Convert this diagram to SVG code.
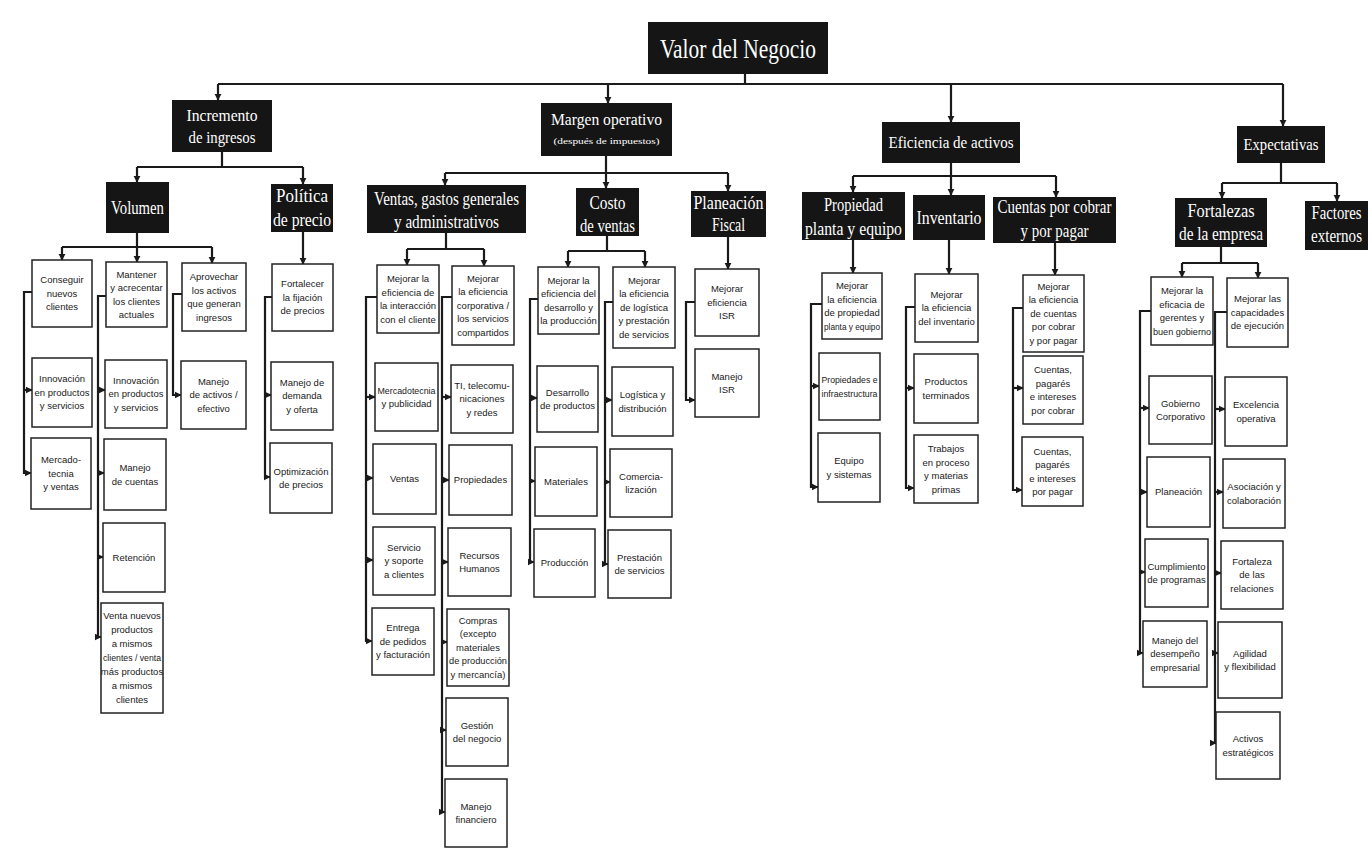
<svg xmlns="http://www.w3.org/2000/svg" width="1372" height="849" viewBox="0 0 1372 849">
<style>
.h rect{fill:#151515}
.h text{fill:#fff;font-family:"Liberation Serif",serif;font-size:18px;text-anchor:middle}
.b rect{fill:#fff;stroke:#222;stroke-width:1.5}
.b text{fill:#1a1a1a;font-family:"Liberation Sans",Arial,sans-serif;font-size:9.5px;text-anchor:middle}
.c path{fill:none;stroke:#1a1a1a;stroke-width:2.2}
.c path.a{marker-end:url(#ar)}
</style>
<defs>
<marker id="ar" viewBox="0 0 10 10" refX="9" refY="5" markerWidth="3.2" markerHeight="3.2" orient="auto" markerUnits="strokeWidth">
<path d="M0,0 L10,5 L0,10 z" fill="#1a1a1a"/>
</marker>
</defs>
<rect width="1372" height="849" fill="#fff"/>

<g class="c" id="connectors">
<path d="M745,74 V84"/>
<path d="M218,84 H1283"/>
<path class="a" d="M218,84 V100"/>
<path class="a" d="M608,84 V103"/>
<path class="a" d="M951,84 V122"/>
<path class="a" d="M1283,84 V126"/>
<path d="M222,152 V167 M137,167 H303"/>
<path class="a" d="M137,167 V182"/>
<path class="a" d="M303,167 V184"/>
<path d="M137,233 V247 M62,247 H212"/>
<path class="a" d="M62,247 V260"/>
<path class="a" d="M137,247 V262"/>
<path class="a" d="M212,247 V263"/>
<path class="a" d="M303,232 V264"/>
<path class="a" d="M32,292 H24 V473 H31"/>
<path class="a" d="M24,390 H32"/>
<path class="a" d="M106,296 H98 V637 H101"/>
<path class="a" d="M98,390 H105"/>
<path class="a" d="M98,473 H104"/>
<path class="a" d="M98,557 H103"/>
<path class="a" d="M182,294 H173 V395 H181"/>
<path class="a" d="M272,297 H265 V477 H270"/>
<path class="a" d="M265,395 H271"/>
<path d="M606,156 V173 M445,173 H728"/>
<path class="a" d="M445,173 V185"/>
<path class="a" d="M606,173 V188"/>
<path class="a" d="M728,173 V191"/>
<path d="M446,233 V249 M407,249 H484"/>
<path class="a" d="M407,249 V265"/>
<path class="a" d="M484,249 V266"/>
<path d="M607,236 V251 M568,251 H645"/>
<path class="a" d="M568,251 V267"/>
<path class="a" d="M645,251 V267"/>
<path class="a" d="M728,237 V269"/>
<path class="a" d="M695,302 H686 V400 H695"/>
<path class="a" d="M377,297 H366 V641 H372"/>
<path class="a" d="M366,397 H375"/>
<path class="a" d="M366,478 H373"/>
<path class="a" d="M366,560 H373"/>
<path class="a" d="M452,297 H442 V812 H445"/>
<path class="a" d="M442,397 H451"/>
<path class="a" d="M442,480 H449"/>
<path class="a" d="M442,562 H448"/>
<path class="a" d="M442,642 H447"/>
<path class="a" d="M442,730 H446"/>
<path class="a" d="M538,299 H530 V562 H534"/>
<path class="a" d="M530,398 H537"/>
<path class="a" d="M530,481 H535"/>
<path class="a" d="M613,302 H605 V564 H608"/>
<path class="a" d="M605,400 H612"/>
<path class="a" d="M605,482 H610"/>
<path d="M951,163 V176 M853,176 H1056"/>
<path class="a" d="M853,176 V192"/>
<path class="a" d="M951,176 V195"/>
<path class="a" d="M1056,176 V197"/>
<path class="a" d="M853,240 V273"/>
<path class="a" d="M949,240 V274"/>
<path class="a" d="M1055,243 V275"/>
<path class="a" d="M822,304 H811 V487 H818"/>
<path class="a" d="M811,386 H819"/>
<path class="a" d="M915,307 H906 V488 H914"/>
<path class="a" d="M906,388 H914"/>
<path class="a" d="M1023,308 H1013 V490 H1022"/>
<path class="a" d="M1013,388 H1023"/>
<path d="M1281,163 V183 M1222,183 H1337"/>
<path class="a" d="M1222,183 V198"/>
<path class="a" d="M1337,183 V201"/>
<path d="M1221,247 V263 M1182,263 H1258"/>
<path class="a" d="M1182,263 V277"/>
<path class="a" d="M1258,263 V278"/>
<path class="a" d="M1151,311 H1140 V653 H1143"/>
<path class="a" d="M1140,408 H1149"/>
<path class="a" d="M1140,492 H1147"/>
<path class="a" d="M1140,572 H1145"/>
<path class="a" d="M1227,312 H1215 V743 H1216"/>
<path class="a" d="M1215,409 H1225"/>
<path class="a" d="M1215,492 H1223"/>
<path class="a" d="M1215,573 H1221"/>
<path class="a" d="M1215,653 H1218"/>
</g>

<g class="h" id="valor"><rect x="648" y="22" width="180" height="52"/><text x="738" y="58" style="font-size:28px" textLength="156" lengthAdjust="spacingAndGlyphs">Valor del Negocio</text></g>
<g class="h" id="incremento"><rect x="172" y="100" width="100" height="52"/><text x="222" y="121" style="font-size:17px" textLength="71" lengthAdjust="spacingAndGlyphs">Incremento</text><text x="222" y="143" style="font-size:17px" textLength="67" lengthAdjust="spacingAndGlyphs">de ingresos</text></g>
<g class="h" id="margen"><rect x="541" y="103" width="131" height="53"/><text x="606.5" y="125" style="font-size:17px" textLength="111" lengthAdjust="spacingAndGlyphs">Margen operativo</text><text x="606.5" y="144" style="font-size:9px" textLength="106" lengthAdjust="spacingAndGlyphs">(después de impuestos)</text></g>
<g class="h" id="eficiencia"><rect x="882" y="122" width="138" height="41"/><text x="951" y="148" style="font-size:17px" textLength="125" lengthAdjust="spacingAndGlyphs">Eficiencia de activos</text></g>
<g class="h" id="expectativas"><rect x="1237" y="126" width="88" height="37"/><text x="1281" y="150" style="font-size:17px" textLength="75" lengthAdjust="spacingAndGlyphs">Expectativas</text></g>
<g class="h" id="volumen"><rect x="106" y="182" width="63" height="51"/><text x="137.5" y="214" style="font-size:19px" textLength="53" lengthAdjust="spacingAndGlyphs">Volumen</text></g>
<g class="h" id="politica"><rect x="271" y="184" width="62" height="48"/><text x="302" y="202" textLength="52" lengthAdjust="spacingAndGlyphs">Política</text><text x="302" y="226" textLength="58" lengthAdjust="spacingAndGlyphs">de precio</text></g>
<g class="h" id="ventas_gastos"><rect x="367" y="185" width="159" height="48"/><text x="446.5" y="205" textLength="145" lengthAdjust="spacingAndGlyphs">Ventas, gastos generales</text><text x="446.5" y="228" textLength="105" lengthAdjust="spacingAndGlyphs">y administrativos</text></g>
<g class="h" id="costo"><rect x="576" y="188" width="63" height="48"/><text x="607.5" y="209" textLength="36" lengthAdjust="spacingAndGlyphs">Costo</text><text x="607.5" y="232" textLength="55" lengthAdjust="spacingAndGlyphs">de ventas</text></g>
<g class="h" id="planeacion_fiscal"><rect x="691" y="191" width="75" height="46"/><text x="728.5" y="209" textLength="70" lengthAdjust="spacingAndGlyphs">Planeación</text><text x="728.5" y="231" textLength="33" lengthAdjust="spacingAndGlyphs">Fiscal</text></g>
<g class="h" id="ppe"><rect x="802" y="192" width="103" height="48"/><text x="853.5" y="211" textLength="59" lengthAdjust="spacingAndGlyphs">Propiedad</text><text x="853.5" y="235" textLength="97" lengthAdjust="spacingAndGlyphs">planta y equipo</text></g>
<g class="h" id="inventario"><rect x="913" y="195" width="72" height="45"/><text x="949" y="224" textLength="65" lengthAdjust="spacingAndGlyphs">Inventario</text></g>
<g class="h" id="cuentas"><rect x="993" y="197" width="123" height="46"/><text x="1054.5" y="213" textLength="114" lengthAdjust="spacingAndGlyphs">Cuentas por cobrar</text><text x="1054.5" y="237" textLength="68" lengthAdjust="spacingAndGlyphs">y por pagar</text></g>
<g class="h" id="fortalezas"><rect x="1175" y="198" width="92" height="49"/><text x="1221" y="217" textLength="67" lengthAdjust="spacingAndGlyphs">Fortalezas</text><text x="1221" y="240" textLength="84" lengthAdjust="spacingAndGlyphs">de la empresa</text></g>
<g class="h" id="factores"><rect x="1305" y="201" width="63" height="49"/><text x="1336.5" y="219" textLength="50" lengthAdjust="spacingAndGlyphs">Factores</text><text x="1336.5" y="242" textLength="51" lengthAdjust="spacingAndGlyphs">externos</text></g>

<g class="b" id="conseguir"><rect x="32" y="260" width="60" height="67"/><text><tspan x="62" y="283.3">Conseguir</tspan><tspan x="62" y="296.8">nuevos</tspan><tspan x="62" y="310.3">clientes</tspan></text></g>
<g class="b" id="innovacion1"><rect x="32" y="358" width="60" height="69"/><text><tspan x="62" y="382.3">Innovación</tspan><tspan x="62" y="395.8" textLength="55" lengthAdjust="spacingAndGlyphs">en productos</tspan><tspan x="62" y="409.3">y servicios</tspan></text></g>
<g class="b" id="mercadotecnia_ventas"><rect x="31" y="438" width="60" height="71"/><text><tspan x="61" y="463.3">Mercado-</tspan><tspan x="61" y="476.8">tecnia</tspan><tspan x="61" y="490.3">y ventas</tspan></text></g>
<g class="b" id="mantener"><rect x="106" y="262" width="61" height="65"/><text><tspan x="136.5" y="277.6">Mantener</tspan><tspan x="136.5" y="291.1">y acrecentar</tspan><tspan x="136.5" y="304.6">los clientes</tspan><tspan x="136.5" y="318.1">actuales</tspan></text></g>
<g class="b" id="innovacion2"><rect x="105" y="360" width="62" height="68"/><text><tspan x="136" y="383.8">Innovación</tspan><tspan x="136" y="397.3" textLength="55" lengthAdjust="spacingAndGlyphs">en productos</tspan><tspan x="136" y="410.8">y servicios</tspan></text></g>
<g class="b" id="manejo_cuentas"><rect x="104" y="439" width="62" height="71"/><text><tspan x="135" y="471">Manejo</tspan><tspan x="135" y="484.5">de cuentas</tspan></text></g>
<g class="b" id="retencion"><rect x="103" y="523" width="62" height="69"/><text x="134" y="560.8">Retención</text></g>
<g class="b" id="venta_nuevos"><rect x="101" y="603" width="62" height="110"/><text><tspan x="132" y="619.3">Venta nuevos</tspan><tspan x="132" y="633.3">productos</tspan><tspan x="132" y="647.3">a mismos</tspan><tspan x="132" y="661.3" textLength="58" lengthAdjust="spacingAndGlyphs">clientes / venta</tspan><tspan x="132" y="675.3">más productos</tspan><tspan x="132" y="689.3">a mismos</tspan><tspan x="132" y="703.3">clientes</tspan></text></g>
<g class="b" id="aprovechar"><rect x="182" y="263" width="64" height="68"/><text><tspan x="214" y="280">Aprovechar</tspan><tspan x="214" y="293.5">los activos</tspan><tspan x="214" y="307">que generan</tspan><tspan x="214" y="320.5">ingresos</tspan></text></g>
<g class="b" id="manejo_activos"><rect x="181" y="361" width="65" height="68"/><text><tspan x="213.5" y="384.8">Manejo</tspan><tspan x="213.5" y="398.3">de activos /</tspan><tspan x="213.5" y="411.8">efectivo</tspan></text></g>
<g class="b" id="fortalecer"><rect x="272" y="264" width="61" height="67"/><text><tspan x="302.5" y="287.3">Fortalecer</tspan><tspan x="302.5" y="300.8">la fijación</tspan><tspan x="302.5" y="314.3">de precios</tspan></text></g>
<g class="b" id="manejo_demanda"><rect x="271" y="362" width="62" height="68"/><text><tspan x="302" y="385.8">Manejo de</tspan><tspan x="302" y="399.3">demanda</tspan><tspan x="302" y="412.8">y oferta</tspan></text></g>
<g class="b" id="optimizacion"><rect x="270" y="443" width="62" height="70"/><text><tspan x="301" y="474.6">Optimización</tspan><tspan x="301" y="488.1">de precios</tspan></text></g>

<g class="b" id="mej_interaccion"><rect x="377" y="265" width="62" height="68"/><text><tspan x="408" y="282">Mejorar la</tspan><tspan x="408" y="295.5">eficiencia de</tspan><tspan x="408" y="309">la interacción</tspan><tspan x="408" y="322.5">con el cliente</tspan></text></g>
<g class="b" id="mercadotecnia_pub"><rect x="375" y="363" width="63" height="68"/><text><tspan x="406.5" y="393.6" textLength="58" lengthAdjust="spacingAndGlyphs">Mercadotecnia</tspan><tspan x="406.5" y="407.1">y publicidad</tspan></text></g>
<g class="b" id="ventas"><rect x="373" y="444" width="63" height="70"/><text x="404.5" y="482.3">Ventas</text></g>
<g class="b" id="servicio"><rect x="373" y="527" width="62" height="68"/><text><tspan x="404" y="550.8">Servicio</tspan><tspan x="404" y="564.3">y soporte</tspan><tspan x="404" y="577.8">a clientes</tspan></text></g>
<g class="b" id="entrega"><rect x="372" y="608" width="62" height="67"/><text><tspan x="403" y="631.3">Entrega</tspan><tspan x="403" y="644.8">de pedidos</tspan><tspan x="403" y="658.3">y facturación</tspan></text></g>
<g class="b" id="mej_corporativa"><rect x="452" y="266" width="62" height="79"/><text><tspan x="483" y="281.8">Mejorar</tspan><tspan x="483" y="295.3">la eficiencia</tspan><tspan x="483" y="308.8">corporativa /</tspan><tspan x="483" y="322.3">los servicios</tspan><tspan x="483" y="335.8">compartidos</tspan></text></g>
<g class="b" id="ti"><rect x="451" y="365" width="62" height="68"/><text><tspan x="482" y="388.8">TI, telecomu-</tspan><tspan x="482" y="402.3">nicaciones</tspan><tspan x="482" y="415.8">y redes</tspan></text></g>
<g class="b" id="propiedades"><rect x="449" y="445" width="63" height="70"/><text x="480.5" y="483.3">Propiedades</text></g>
<g class="b" id="rrhh"><rect x="448" y="528" width="63" height="68"/><text><tspan x="479.5" y="558.6">Recursos</tspan><tspan x="479.5" y="572.1">Humanos</tspan></text></g>
<g class="b" id="compras"><rect x="447" y="609" width="62" height="77"/><text><tspan x="478" y="623.8">Compras</tspan><tspan x="478" y="637.3">(excepto</tspan><tspan x="478" y="650.8">materiales</tspan><tspan x="478" y="664.3" textLength="58" lengthAdjust="spacingAndGlyphs">de producción</tspan><tspan x="478" y="677.8">y mercancía)</tspan></text></g>
<g class="b" id="gestion"><rect x="446" y="698" width="62" height="68"/><text><tspan x="477" y="728.6">Gestión</tspan><tspan x="477" y="742.1">del negocio</tspan></text></g>
<g class="b" id="manejo_financiero"><rect x="445" y="779" width="62" height="68"/><text><tspan x="476" y="809.6">Manejo</tspan><tspan x="476" y="823.1">financiero</tspan></text></g>

<g class="b" id="mej_desarrollo"><rect x="538" y="267" width="61" height="67"/><text><tspan x="568.5" y="283.6">Mejorar la</tspan><tspan x="568.5" y="297.1">eficiencia del</tspan><tspan x="568.5" y="310.6">desarrollo y</tspan><tspan x="568.5" y="324.1">la producción</tspan></text></g>
<g class="b" id="desarrollo"><rect x="537" y="366" width="61" height="66"/><text><tspan x="567.5" y="395.6">Desarrollo</tspan><tspan x="567.5" y="409.1">de productos</tspan></text></g>
<g class="b" id="materiales"><rect x="535" y="447" width="62" height="69"/><text x="566" y="484.8">Materiales</text></g>
<g class="b" id="produccion"><rect x="534" y="529" width="61" height="68"/><text x="564.5" y="566.3">Producción</text></g>
<g class="b" id="mej_logistica"><rect x="613" y="267" width="62" height="81"/><text><tspan x="644" y="283.8">Mejorar</tspan><tspan x="644" y="297.3">la eficiencia</tspan><tspan x="644" y="310.8">de logística</tspan><tspan x="644" y="324.3">y prestación</tspan><tspan x="644" y="337.8">de servicios</tspan></text></g>
<g class="b" id="logistica"><rect x="612" y="367" width="61" height="69"/><text><tspan x="642.5" y="398.1">Logística y</tspan><tspan x="642.5" y="411.6">distribución</tspan></text></g>
<g class="b" id="comercializacion"><rect x="610" y="449" width="62" height="68"/><text><tspan x="641" y="479.6">Comercia-</tspan><tspan x="641" y="493.1">lización</tspan></text></g>
<g class="b" id="prestacion"><rect x="608" y="530" width="63" height="68"/><text><tspan x="639.5" y="560.6">Prestación</tspan><tspan x="639.5" y="574.1">de servicios</tspan></text></g>

<g class="b" id="mej_isr"><rect x="695" y="269" width="64" height="67"/><text><tspan x="727" y="292.3">Mejorar</tspan><tspan x="727" y="305.8">eficiencia</tspan><tspan x="727" y="319.3">ISR</tspan></text></g>
<g class="b" id="manejo_isr"><rect x="695" y="349" width="64" height="68"/><text><tspan x="727" y="379.6">Manejo</tspan><tspan x="727" y="393.1">ISR</tspan></text></g>

<g class="b" id="mej_ppe"><rect x="822" y="273" width="60" height="66"/><text><tspan x="852" y="289">Mejorar</tspan><tspan x="852" y="302.5">la eficiencia</tspan><tspan x="852" y="316">de propiedad</tspan><tspan x="852" y="329.5" textLength="56" lengthAdjust="spacingAndGlyphs">planta y equipo</tspan></text></g>
<g class="b" id="propiedades_infra"><rect x="819" y="353" width="61" height="67"/><text><tspan x="849.5" y="383.1" textLength="56" lengthAdjust="spacingAndGlyphs">Propiedades e</tspan><tspan x="849.5" y="396.6" textLength="56" lengthAdjust="spacingAndGlyphs">infraestructura</tspan></text></g>
<g class="b" id="equipo"><rect x="818" y="433" width="62" height="69"/><text><tspan x="849" y="464.1">Equipo</tspan><tspan x="849" y="477.6">y sistemas</tspan></text></g>

<g class="b" id="mej_inventario"><rect x="915" y="274" width="63" height="68"/><text><tspan x="946.5" y="297.8">Mejorar</tspan><tspan x="946.5" y="311.3">la eficiencia</tspan><tspan x="946.5" y="324.8">del inventario</tspan></text></g>
<g class="b" id="productos_terminados"><rect x="914" y="354" width="64" height="69"/><text><tspan x="946" y="385.1">Productos</tspan><tspan x="946" y="398.6">terminados</tspan></text></g>
<g class="b" id="trabajos"><rect x="914" y="435" width="64" height="68"/><text><tspan x="946" y="452">Trabajos</tspan><tspan x="946" y="465.5">en proceso</tspan><tspan x="946" y="479">y materias</tspan><tspan x="946" y="492.5">primas</tspan></text></g>

<g class="b" id="mej_cuentas"><rect x="1023" y="275" width="61" height="77"/><text><tspan x="1053.5" y="289.8">Mejorar</tspan><tspan x="1053.5" y="303.3">la eficiencia</tspan><tspan x="1053.5" y="316.8">de cuentas</tspan><tspan x="1053.5" y="330.3">por cobrar</tspan><tspan x="1053.5" y="343.8">y por pagar</tspan></text></g>
<g class="b" id="cuentas_cobrar"><rect x="1023" y="356" width="60" height="68"/><text><tspan x="1053" y="373">Cuentas,</tspan><tspan x="1053" y="386.5">pagarés</tspan><tspan x="1053" y="400">e intereses</tspan><tspan x="1053" y="413.5">por cobrar</tspan></text></g>
<g class="b" id="cuentas_pagar"><rect x="1022" y="437" width="61" height="69"/><text><tspan x="1052.5" y="454.6">Cuentas,</tspan><tspan x="1052.5" y="468.1">pagarés</tspan><tspan x="1052.5" y="481.6">e intereses</tspan><tspan x="1052.5" y="495.1">por pagar</tspan></text></g>

<g class="b" id="mej_gerentes"><rect x="1151" y="277" width="62" height="68"/><text><tspan x="1182" y="294">Mejorar la</tspan><tspan x="1182" y="307.5">eficacia de</tspan><tspan x="1182" y="321">gerentes  y</tspan><tspan x="1182" y="334.5" textLength="58" lengthAdjust="spacingAndGlyphs">buen gobierno</tspan></text></g>
<g class="b" id="gobierno"><rect x="1149" y="376" width="63" height="68"/><text><tspan x="1180.5" y="406.6">Gobierno</tspan><tspan x="1180.5" y="420.1">Corporativo</tspan></text></g>
<g class="b" id="planeacion"><rect x="1147" y="457" width="63" height="70"/><text x="1178.5" y="495.3">Planeación</text></g>
<g class="b" id="cumplimiento"><rect x="1145" y="539" width="63" height="68"/><text><tspan x="1176.5" y="569.6" textLength="58" lengthAdjust="spacingAndGlyphs">Cumplimiento</tspan><tspan x="1176.5" y="583.1">de programas</tspan></text></g>
<g class="b" id="manejo_desempeno"><rect x="1143" y="621" width="64" height="66"/><text><tspan x="1175" y="643.8">Manejo del</tspan><tspan x="1175" y="657.3">desempeño</tspan><tspan x="1175" y="670.8">empresarial</tspan></text></g>
<g class="b" id="mej_capacidades"><rect x="1227" y="278" width="61" height="69"/><text><tspan x="1257.5" y="302.3">Mejorar las</tspan><tspan x="1257.5" y="315.8">capacidades</tspan><tspan x="1257.5" y="329.3">de ejecución</tspan></text></g>
<g class="b" id="excelencia"><rect x="1225" y="377" width="62" height="69"/><text><tspan x="1256" y="408.1">Excelencia</tspan><tspan x="1256" y="421.6">operativa</tspan></text></g>
<g class="b" id="asociacion"><rect x="1223" y="459" width="62" height="69"/><text><tspan x="1254" y="490.1">Asociación y</tspan><tspan x="1254" y="503.6">colaboración</tspan></text></g>
<g class="b" id="fortaleza_relaciones"><rect x="1221" y="541" width="62" height="68"/><text><tspan x="1252" y="564.8">Fortaleza</tspan><tspan x="1252" y="578.3">de las</tspan><tspan x="1252" y="591.8">relaciones</tspan></text></g>
<g class="b" id="agilidad"><rect x="1218" y="622" width="64" height="76"/><text><tspan x="1250" y="656.6">Agilidad</tspan><tspan x="1250" y="670.1">y flexibilidad</tspan></text></g>
<g class="b" id="activos_estrategicos"><rect x="1216" y="712" width="64" height="67"/><text><tspan x="1248" y="742.1">Activos</tspan><tspan x="1248" y="755.6">estratégicos</tspan></text></g>
</svg>
